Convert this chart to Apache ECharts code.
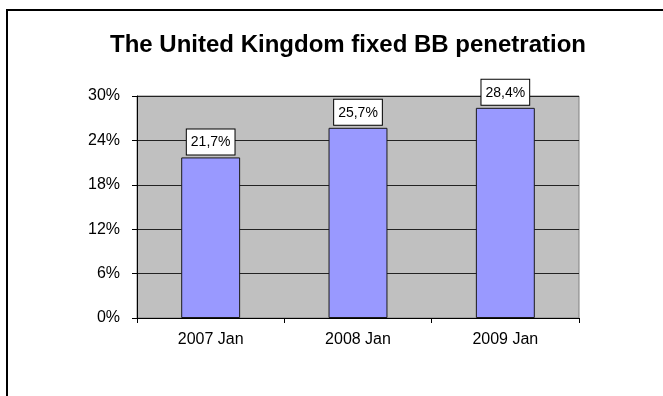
<!DOCTYPE html>
<html>
<head>
<meta charset="utf-8">
<script src="https://cdn.jsdelivr.net/npm/echarts@6/dist/echarts.min.js"></script>
<style>
  html, body { margin: 0; padding: 0; background: #fff; }
  #chart { width: 663px; height: 396px; }
</style>
</head>
<body>
<div id="chart"></div>
<script>
// data
var chartTitle = 'The United Kingdom fixed BB penetration';
var categories = ['2007 Jan', '2008 Jan', '2009 Jan'];
var penetration = [21.7, 25.7, 28.4];
var yTicks = [0, 6, 12, 18, 24, 30];

var font = 'Liberation Sans, Arial, sans-serif';

var chart = echarts.init(document.getElementById('chart'));
var option = {
    animation: false,
    backgroundColor: '#fff',
    title: {
        text: chartTitle,
        left: 105,
        top: 28,
        textStyle: { fontFamily: font, fontSize: 24, fontWeight: 'bold', color: '#000' }
    },
    graphic: [{
        type: 'rect',
        shape: { x: 7, y: 10, width: 700, height: 450 },
        style: { fill: 'none', stroke: '#000', lineWidth: 2 },
        silent: true
    }],
    grid: {
        left: 137, right: 84, top: 96, bottom: 78,
        show: true,
        backgroundColor: '#C0C0C0',
        borderColor: '#808080',
        borderWidth: 1
    },
    xAxis: {
        type: 'category',
        data: categories,
        axisLine: { lineStyle: { color: '#000', width: 1 } },
        axisTick: { show: true, length: 5, lineStyle: { color: '#000' } },
        axisLabel: { margin: 14, fontFamily: font, fontSize: 16, color: '#000' }
    },
    yAxis: {
        type: 'value',
        min: yTicks[0],
        max: yTicks[yTicks.length - 1],
        interval: yTicks[1] - yTicks[0],
        axisLine: { show: true, lineStyle: { color: '#000', width: 1 } },
        axisTick: { show: true, length: 5, lineStyle: { color: '#000' } },
        axisLabel: { margin: 17, fontFamily: font, fontSize: 16, color: '#000', formatter: '{value}%' },
        splitLine: { show: true, lineStyle: { color: '#222', width: 1 } }
    },
    series: [{
        type: 'bar',
        data: penetration,
        barWidth: '40%',
        itemStyle: { color: '#9999FF', borderColor: '#1a1a1a', borderWidth: 1 },
        label: {
            show: true,
            position: 'top',
            distance: 3,
            fontFamily: font,
            fontSize: 14,
            color: '#000',
            backgroundColor: '#fff',
            borderColor: '#000',
            borderWidth: 1,
            padding: [6, 4, 5, 4],
            formatter: function (p) {
                return p.value.toFixed(1).replace('.', ',') + '%';
            }
        }
    }]
};
chart.setOption(option);
</script>
</body>
</html>
